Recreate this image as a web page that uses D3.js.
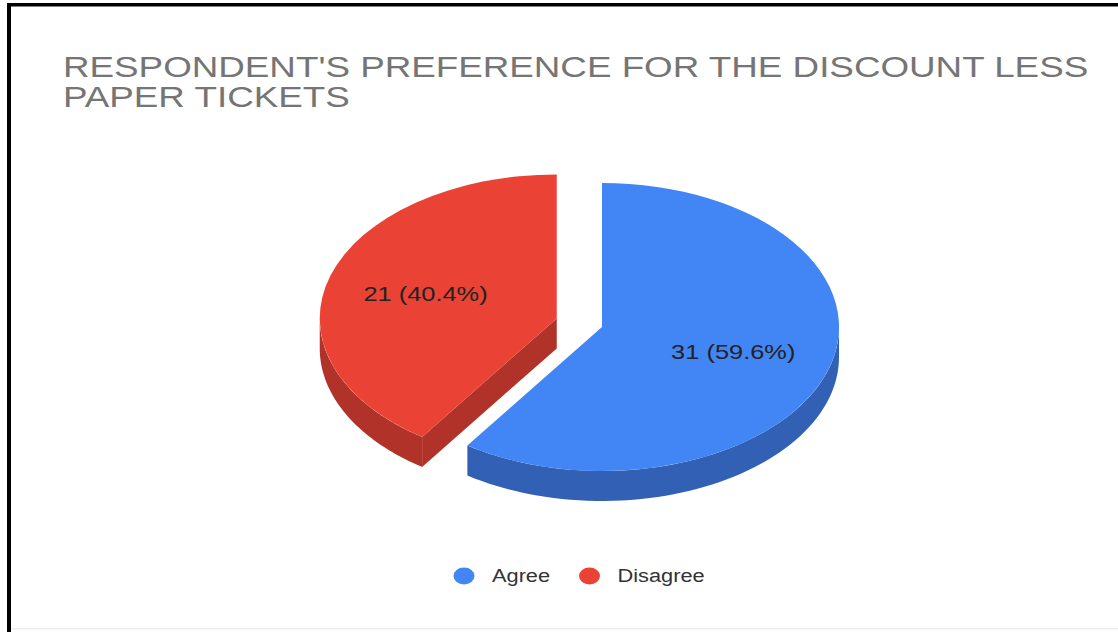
<!DOCTYPE html>
<html>
<head>
<meta charset="utf-8">
<script src="https://cdn.jsdelivr.net/npm/d3@7"></script>
<style>
  html, body { margin: 0; padding: 0; background: #ffffff; }
  svg { display: block; }
  text { font-family: "Liberation Sans", Arial, Helvetica, sans-serif; }
</style>
</head>
<body>
<svg id="chart" width="1118" height="632"></svg>
<script>
// Survey answers
const categories = ["Agree", "Disagree"];
const counts = [31, 21];
const topColors = ["#4285F4", "#EA4335"];
const sideColors = ["#3160B4", "#B03228"];
const titleLines = ["RESPONDENT'S PREFERENCE FOR THE DISCOUNT LESS", "PAPER TICKETS"];

const W = 1118, H = 632;
const svg = d3.select("#chart");

// frame
svg.append("rect").attr("x", 0).attr("y", 0).attr("width", W).attr("height", H).attr("fill", "#ffffff");
svg.append("rect").attr("x", 7).attr("y", 3).attr("width", W - 7).attr("height", 3.5).attr("fill", "#000");
svg.append("rect").attr("x", 7).attr("y", 3).attr("width", 4).attr("height", H - 3).attr("fill", "#000");
svg.append("rect").attr("x", 11).attr("y", 628).attr("width", W - 11).attr("height", 1.5).attr("fill", "#eeeeee");

const sx = 1.21; // horizontal stretch of the text

// title
titleLines.forEach((t, i) => {
  svg.append("text")
    .attr("transform", `translate(63,${76.5 + i * 30}) scale(1.247,1)`)
    .attr("font-size", 29.5)
    .attr("fill", "#757575")
    .text(t);
});

// 3D pie geometry
const cx = 602, cy = 327, rx = 237, ry = 144, depth = 30, explode = 0.2;
const total = d3.sum(counts);
const pie = d3.pie().sort(null).startAngle(0).endAngle(2 * Math.PI);
const arcs = pie(counts);
const arcTop = d3.arc().innerRadius(0).outerRadius(rx);
const line = d3.line();

const pt = (a, ox, oy, dz = 0) => [ox + rx * Math.sin(a), oy - ry * Math.cos(a) + dz];

const g = svg.append("g");

// draw the exploded (back-left) slice first, then the main slice
const order = [1, 0];
order.forEach(i => {
  const d = arcs[i];
  const mid = (d.startAngle + d.endAngle) / 2;
  const off = i === 1 ? explode : 0;
  const ox = cx + off * rx * Math.sin(mid);
  const oy = cy - off * ry * Math.cos(mid);
  const sg = g.append("g");

  // radial wall at the start edge, visible when it faces the viewer
  if (Math.sin(d.startAngle) < -1e-6) {
    const p = pt(d.startAngle, ox, oy);
    sg.append("path")
      .attr("d", line([[ox, oy], p, [p[0], p[1] + depth], [ox, oy + depth]]) + "Z")
      .attr("fill", sideColors[i]);
  }
  // radial wall at the end edge
  if (Math.sin(d.endAngle) > 1e-6) {
    const p = pt(d.endAngle, ox, oy);
    sg.append("path")
      .attr("d", line([[ox, oy], p, [p[0], p[1] + depth], [ox, oy + depth]]) + "Z")
      .attr("fill", sideColors[i]);
  }
  // outer wall on the front half of the ellipse
  const a0 = Math.max(d.startAngle, Math.PI / 2);
  const a1 = Math.min(d.endAngle, 3 * Math.PI / 2);
  if (a1 > a0) {
    const steps = d3.range(0, 61).map(k => a0 + (a1 - a0) * k / 60);
    const topPts = steps.map(a => pt(a, ox, oy));
    const botPts = steps.slice().reverse().map(a => pt(a, ox, oy, depth));
    sg.append("path")
      .attr("d", line(topPts.concat(botPts)) + "Z")
      .attr("fill", sideColors[i]);
  }
  // top face
  sg.append("path")
    .attr("transform", `translate(${ox},${oy}) scale(1,${ry / rx})`)
    .attr("d", arcTop(d))
    .attr("fill", topColors[i]);

  // value label
  const k = 0.58;
  const lx = ox + k * rx * Math.sin(mid);
  const ly = oy - k * ry * Math.cos(mid);
  const pct = (counts[i] / total * 100).toFixed(1);
  sg.append("text")
    .attr("transform", `translate(${lx},${ly + 7.5}) scale(${sx},1)`)
    .attr("text-anchor", "middle")
    .attr("font-size", 21)
    .attr("fill", "#222222")
    .text(`${counts[i]} (${pct}%)`);
});

// legend
const legendX = [464, 589.5];
categories.forEach((c, i) => {
  svg.append("ellipse")
    .attr("cx", legendX[i]).attr("cy", 576)
    .attr("rx", 10.5).attr("ry", 8.5)
    .attr("fill", topColors[i]);
  svg.append("text")
    .attr("transform", `translate(${legendX[i] + 28},582) scale(${sx},1)`)
    .attr("font-size", 18)
    .attr("fill", "#333333")
    .text(c);
});
</script>
</body>
</html>
